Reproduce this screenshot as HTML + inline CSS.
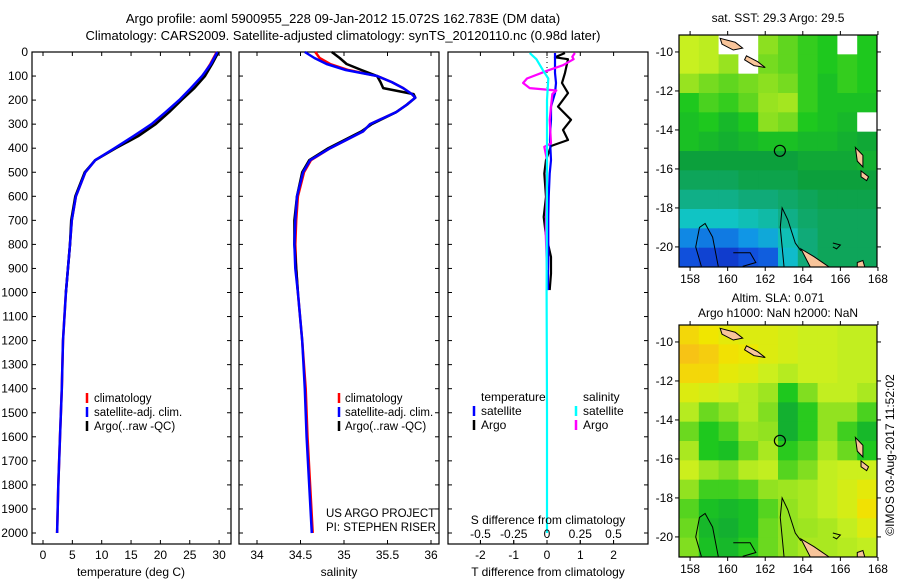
<!DOCTYPE html>
<html><head><meta charset="utf-8"><style>
html,body{margin:0;padding:0;background:#fff}
svg{display:block;font-family:"Liberation Sans",sans-serif}
</style></head><body>
<svg id="fig" width="900" height="580" viewBox="0 0 900 580" xmlns="http://www.w3.org/2000/svg">
<text x="343" y="23" font-size="13" text-anchor="middle">Argo profile: aoml 5900955_228 09-Jan-2012 15.072S 162.783E (DM data)</text>
<text x="343" y="40" font-size="13" text-anchor="middle">Climatology: CARS2009. Satellite-adjusted climatology: synTS_20120110.nc (0.98d later)</text>
<text x="778" y="22" font-size="12" text-anchor="middle">sat. SST: 29.3 Argo: 29.5</text>
<text x="778" y="302" font-size="12" text-anchor="middle">Altim. SLA: 0.071</text>
<text x="778" y="317" font-size="12" text-anchor="middle">Argo h1000: NaN h2000: NaN</text>
<text transform="translate(894,455) rotate(-90)" font-size="12" text-anchor="middle">©IMOS 03-Aug-2017 11:52:02</text>
<text x="326" y="517" font-size="11.5">US ARGO PROJECT</text>
<text x="326" y="531" font-size="11.5">PI: STEPHEN RISER</text>
<g id="plots"></g>
</svg>
<script>
// ---------- data ----------
var tDepth   = [0,50,100,150,200,250,300,350,400,450,500,600,700,800,1000,1200,1400,1600,1800,2000];
var tClim    = [29.6,28.5,27.2,25.3,23.3,21.0,18.6,15.6,12.3,8.9,7.2,5.6,4.9,4.6,3.9,3.4,3.2,2.9,2.6,2.4];
var tSat     = [29.7,28.6,27.1,25.2,23.2,20.9,18.5,15.4,12.2,8.9,7.2,5.6,4.9,4.6,3.9,3.4,3.2,2.9,2.6,2.4];
var tArgo    = [29.9,28.8,27.6,25.8,23.6,21.5,19.2,16.2,12.4,8.9,7.1,5.5,4.8,4.6,3.9];
var sDepth   = [0,25,50,75,100,125,150,175,190,220,250,300,330,400,450,500,600,700,800,900,1000,1200,1400,1600,1800,2000];
var sClim    = [34.67,34.72,34.84,35.05,35.38,35.55,35.68,35.78,35.82,35.72,35.6,35.3,35.22,34.84,34.62,34.54,34.47,34.45,34.44,34.45,34.47,34.52,34.56,34.58,34.61,34.64];
var sSat     = [34.55,34.66,34.8,35.02,35.38,35.55,35.68,35.78,35.82,35.72,35.6,35.3,35.22,34.84,34.61,34.53,34.46,34.44,34.43,34.44,34.47,34.52,34.55,34.57,34.6,34.63];
var sArgo    = [34.86,34.95,35.03,35.2,35.38,35.42,35.45,35.8,35.82,35.72,35.6,35.32,35.2,34.82,34.6,34.52,34.46,34.43,34.43,34.45,34.47];
var dDepth   = [4,22,30,87,129,171,227,282,324,366,391,449,505,602,686,755,852,921,990];
var dTArgo   = [0.54,0.24,0.63,0.54,0.45,0.63,0.33,0.72,0.48,0.63,0.12,-0.03,-0.08,-0.03,-0.1,-0.04,0.12,0.12,0.08];
var dTSat    = [0.24,0.24,0.24,0.24,0.27,0.24,0.12,0.12,0.1,0.09,0.1,0.12,0.08,0.05,0.04,0.04,0.04,0.03,0.03];
var dSDepth  = [4,20,30,55,76,110,129,150,160,175,282,380,394,449,600,750,906];
var dSArgo   = [0.21,0.19,0.2,0.12,0.01,-0.15,-0.18,-0.13,0.07,0.04,0.02,0.03,-0.02,0.0,-0.003,-0.01,0.0];
var dSSatDepth = [4,30,76,110,200,500,1000,1500,2000];
var dSSat    = [-0.13,-0.08,-0.03,0.01,0.0,0.0,-0.003,0.0,0.0];
var depthTicks = [0,100,200,300,400,500,600,700,800,900,1000,1100,1200,1300,1400,1500,1600,1700,1800,1900,2000];
var tTicks = [0,5,10,15,20,25,30];
var sTicks = [34,34.5,35,35.5,36];
var sTickLabels = ["34","34.5","35","35.5","36"];
var dTTicks = [-2,-1,0,1,2];
var dSTicks = [-0.5,-0.25,0,0.25,0.5];
var dSTickLabels = ["-0.5","-0.25","0","0.25","0.5"];
var lonTicks = [158,160,162,164,166,168];
var latTicks = [-10,-12,-14,-16,-18,-20];
var sstGrid = [
[.80,.78,null,null,.70,.66,.62,.60,null,.60],
[.80,.78,.72,null,.68,.66,.62,.60,.62,.60],
[.72,.68,.66,.68,.70,.68,.62,.58,.62,.60],
[.60,.64,.62,.66,.72,.74,.62,.58,.58,.58],
[.58,.60,.56,.60,.70,.68,.60,.58,.56,null],
[.58,.56,.54,.56,.58,.58,.56,.56,.54,.52],
[.50,.50,.50,.50,.50,.50,.52,.52,.52,.54],
[.46,.46,.46,.48,.48,.48,.50,.50,.50,.50],
[.40,.40,.40,.42,.42,.44,.46,.48,.48,.48],
[.32,.32,.32,.34,.36,.40,.44,.46,.46,.46],
[.20,.18,.18,.22,.26,.34,.42,.46,.46,.46],
[.12,.08,.06,.12,.14,.30,.42,.46,.46,.46]];
var slaGrid = [
[.93,.90,.87,.85,.85,.83,.81,.81,.79,.79],
[.97,.95,.91,.89,.85,.83,.81,.81,.79,.79],
[.93,.93,.87,.85,.81,.77,.81,.81,.79,.79],
[.85,.83,.81,.77,.73,.60,.69,.79,.79,.75],
[.77,.67,.71,.77,.69,.54,.61,.71,.71,.64],
[.67,.60,.64,.73,.71,.54,.61,.71,.63,.56],
[.75,.60,.58,.67,.75,.61,.65,.75,.67,.60],
[.81,.73,.69,.77,.79,.65,.69,.79,.81,.81],
[.71,.63,.63,.65,.71,.73,.75,.79,.83,.87],
[.65,.58,.56,.58,.65,.71,.75,.79,.83,.91],
[.67,.56,.54,.58,.67,.71,.73,.75,.79,.85],
[.69,.58,.56,.61,.67,.71,.75,.75,.77,.79]];
var floatLon = 162.78, floatLat = -15.07;

// ---------- helpers ----------
var NS="http://www.w3.org/2000/svg", root=document.getElementById('plots');
function mk(tag,attrs,parent){var e=document.createElementNS(NS,tag);for(var k in attrs)e.setAttribute(k,attrs[k]);(parent||root).appendChild(e);return e;}
var yD=function(d){return 52+d*0.2405;};
function poly(xs,ds,fx,color,name,w){
  var p=xs.map(function(v,i){return fx(v).toFixed(1)+','+yD(ds[i]).toFixed(1);}).join(' ');
  var e=mk('polyline',{points:p,fill:'none',stroke:color,'stroke-width':w||2.5,'stroke-linejoin':'round'});
  
  
}
function frame(x0,x1,name){
  var r=mk('rect',{x:x0,y:52,width:x1-x0,height:492,fill:'none',stroke:'#000','stroke-width':1.2});
  
  
  depthTicks.forEach(function(d){mk('line',{x1:x0,x2:x0+4,y1:yD(d),y2:yD(d),stroke:'#000'});mk('line',{x1:x1,x2:x1-4,y1:yD(d),y2:yD(d),stroke:'#000'});});
}
function xTicks(vals,labels,fx,y,name){
  vals.forEach(function(v,i){
    mk('line',{x1:fx(v),x2:fx(v),y1:544,y2:540,stroke:'#000'});
    mk('line',{x1:fx(v),x2:fx(v),y1:52,y2:56,stroke:'#000'});
    var t=mk('text',{x:fx(v),y:y,'font-size':12,'text-anchor':'middle'});t.textContent=labels[i];
    
    
  });
}
function label(x,y,txt,name,anchor,size){var t=mk('text',{x:x,y:y,'font-size':size||12,'text-anchor':anchor||'start'});t.textContent=txt;
  
  return t;}
function legendLine(x,y,color){mk('line',{x1:x,x2:x,y1:y-9,y2:y+1,stroke:color,'stroke-width':2.5});}

// ---------- panel 1: temperature ----------
var xT=function(v){return 43+v*5.87;};
frame(32,231,'temperature-panel');
depthTicks.forEach(function(d){label(28,yD(d)+4,String(d),'depth-tick-label','end');});
poly(tClim,tDepth,xT,'#f00','temp-climatology-line');
poly(tArgo,tDepth.slice(0,tArgo.length),xT,'#000','temp-argo-line');
poly(tSat,tDepth,xT,'#00f','temp-satellite-line');
xTicks(tTicks,tTicks.map(String),xT,559,'temperature-tick-label');
label(131,576,'temperature (deg C)','temperature-axis-title','middle');
[['climatology','#f00'],['satellite-adj. clim.','#00f'],['Argo(..raw -QC)','#000']].forEach(function(e,i){legendLine(87,402+i*14,e[1]);label(94,402+i*14,e[0],'temp-legend-entry','start',11.5);});

// ---------- panel 2: salinity ----------
var xS=function(v){return 257+(v-34)*87;};
frame(239,439,'salinity-panel');
poly(sClim,sDepth,xS,'#f00','sal-climatology-line');
poly(sArgo,sDepth.slice(0,sArgo.length),xS,'#000','sal-argo-line');
poly(sSat,sDepth,xS,'#00f','sal-satellite-line');
xTicks(sTicks,sTickLabels,xS,559,'salinity-tick-label');
label(339,576,'salinity','salinity-axis-title','middle');
[['climatology','#f00'],['satellite-adj. clim.','#00f'],['Argo(..raw -QC)','#000']].forEach(function(e,i){legendLine(339,402+i*14,e[1]);label(345,402+i*14,e[0],'sal-legend-entry','start',11.5);});

// ---------- panel 3: differences ----------
var xDT=function(v){return 547+v*33.3;};
var xDS=function(v){return 547+v*133;};
frame(448,648,'difference-panel');
mk('line',{x1:547,x2:547,y1:52,y2:544,stroke:'#000','stroke-dasharray':'1,4'});
poly(dTArgo,dDepth,xDT,'#000','tdiff-argo-line',2.2);
poly(dTSat,dDepth,xDT,'#00f','tdiff-satellite-line',2.2);
poly(dSArgo,dSDepth,xDS,'#f0f','sdiff-argo-line',2.2);
poly(dSSat,dSSatDepth,xDS,'#0ff','sdiff-satellite-line',2.2);
xTicks(dTTicks,dTTicks.map(String),xDT,559,'tdiff-tick-label');
dSTicks.forEach(function(v,i){label(xDS(v),538,dSTickLabels[i],'sdiff-tick-label','middle');mk('line',{x1:xDS(v),x2:xDS(v),y1:540,y2:544,stroke:'#000'});});
label(548,524,'S difference from climatology','sdiff-axis-title','middle');
label(548,576,'T difference from climatology','tdiff-axis-title','middle');
label(481,401,'temperature','legend-temperature-heading');
label(583,401,'salinity','legend-salinity-heading');
[['satellite','#00f',0],['Argo','#000',1]].forEach(function(e){legendLine(474,415+e[2]*14,e[1]);label(481,415+e[2]*14,e[0],'tdiff-legend-entry');});
[['satellite','#0ff',0],['Argo','#f0f',1]].forEach(function(e){legendLine(576,415+e[2]*14,e[1]);label(583,415+e[2]*14,e[0],'sdiff-legend-entry');});

// ---------- maps ----------
var sstStops=[[0,[16,40,190]],[0.12,[16,80,220]],[0.22,[16,150,230]],[0.32,[16,196,196]],[0.42,[16,170,120]],[0.5,[12,160,60]],[0.6,[30,200,30]],[0.7,[140,224,32]],[0.8,[200,240,32]],[0.9,[240,230,0]],[1,[250,180,30]]];
function col(v){for(var i=1;i<sstStops.length;i++){if(v<=sstStops[i][0]){var a=sstStops[i-1],b=sstStops[i],t=(v-a[0])/(b[0]-a[0]);return 'rgb('+a[1].map(function(c,k){return Math.round(c+(b[1][k]-c)*t);}).join(',')+')';}}return 'rgb(250,180,30)';}
var lonMin=157.41,lonMax=167.95,latTop=-9.13,latBot=-21.03;
function drawMap(grid,top,name){
  var bottom=top+232, x0=679, x1=877;
  var fx=function(lon){return x0+(lon-lonMin)/(lonMax-lonMin)*(x1-x0);};
  var fy=function(lat){return top+(latTop-lat)/(latTop-latBot)*(bottom-top);};
  var g=mk('g',{});
  
  
  var nr=grid.length,nc=grid[0].length,dlon=(lonMax-lonMin)/nc,dlat=(latTop-latBot)/nr;
  grid.forEach(function(row,r){row.forEach(function(v,c){
    var xa=fx(lonMin+c*dlon),xb=fx(lonMin+(c+1)*dlon),ya=fy(latTop-r*dlat),yb=fy(latTop-(r+1)*dlat);
    var cell=mk('rect',{x:xa,y:ya,width:xb-xa+0.5,height:yb-ya+0.5,fill:v===null?'#fff':col(v)},g);
    
    
  });});
  var islands=[[[159.6,-9.3],[160.4,-9.5],[160.8,-9.8],[160.3,-9.9],[159.7,-9.6]],
    [[161.0,-10.2],[161.6,-10.5],[162.0,-10.8],[161.4,-10.7],[160.9,-10.4]],
    [[166.8,-14.9],[167.2,-15.3],[167.2,-15.9],[166.9,-15.6]],
    [[167.1,-16.1],[167.5,-16.4],[167.4,-16.6],[167.1,-16.4]],
    [[163.9,-20.1],[164.6,-20.5],[165.4,-21.03],[164.4,-21.03]],
    [[166.9,-20.8],[167.2,-20.7],[167.3,-21.03],[166.9,-21.03]]];
  islands.forEach(function(p){var e=mk('polygon',{points:p.map(function(q){return fx(q[0])+','+fy(q[1]);}).join(' '),fill:'#f8c49a',stroke:'#000','stroke-width':1},g);
    
    });
  var contours=[[[158.6,-21],[158.3,-20.0],[158.5,-19.0],[158.8,-18.8],[159.2,-19.5],[159.5,-21]],
    [[160.3,-20.3],[161.2,-20.3],[161.5,-20.8],[160.8,-21.0]],
    [[163.0,-21],[162.8,-19.0],[162.9,-18.0],[163.2,-18.6],[163.6,-19.8],[163.9,-20.2]],
    [[165.6,-19.8],[166.0,-19.9],[165.8,-20.1],[165.6,-20.0]]];
  contours.forEach(function(p){var e=mk('polyline',{points:p.map(function(q){return fx(q[0])+','+fy(q[1]);}).join(' '),fill:'none',stroke:'#000','stroke-width':1},g);
    
    });
  var c=mk('circle',{cx:fx(floatLon),cy:fy(floatLat),r:5.5,fill:'none',stroke:'#000','stroke-width':1.2},g);
  
  
  mk('rect',{x:x0,y:top,width:x1-x0,height:bottom-top,fill:'none',stroke:'#000','stroke-width':1.2},g);
  lonTicks.forEach(function(l){mk('line',{x1:fx(l),x2:fx(l),y1:bottom,y2:bottom+4,stroke:'#000'});mk('line',{x1:fx(l),x2:fx(l),y1:top,y2:top-4,stroke:'#000'});label(fx(l),bottom+16,String(l),'map-lon-tick-label','middle');});
  latTicks.forEach(function(l){mk('line',{x1:x0,x2:x0-4,y1:fy(l),y2:fy(l),stroke:'#000'});mk('line',{x1:x1,x2:x1+4,y1:fy(l),y2:fy(l),stroke:'#000'});label(673,fy(l)+4,String(l),'map-lat-tick-label','end');});
}
drawMap(sstGrid,35,'sst-map');
drawMap(slaGrid,325,'sla-map');
</script>
</body></html>
